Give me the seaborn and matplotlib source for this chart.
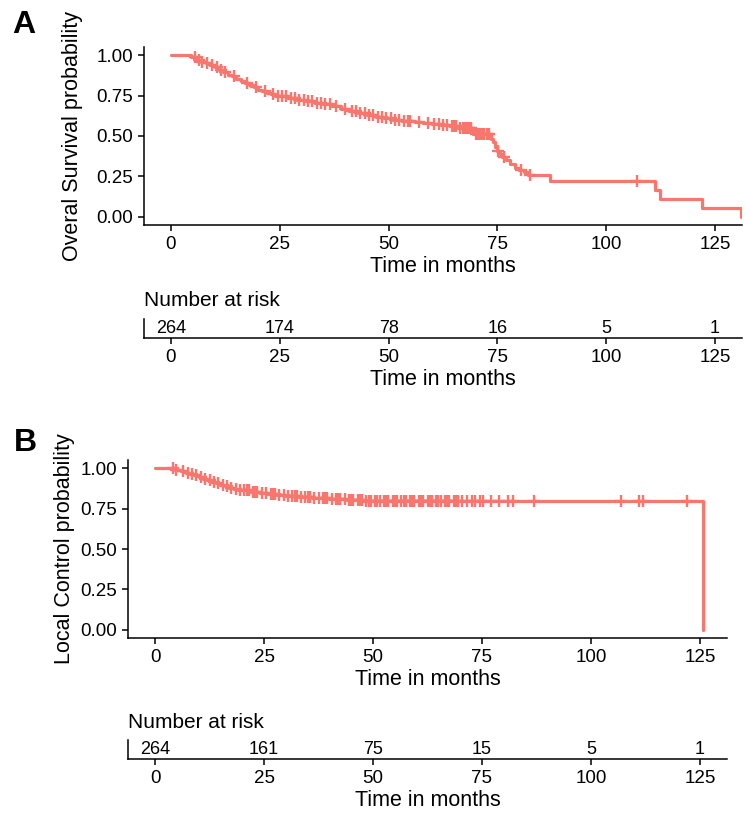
import numpy as np
import pandas as pd
import matplotlib
matplotlib.use("Agg")
import matplotlib.pyplot as plt
import seaborn as sns

# ---------------- data ----------------
# Overall survival (panel A): step times and survival after each step
os_times = [0, 4.5, 6, 7, 8, 9, 10, 11, 12, 13, 14, 15, 16, 17, 18, 19, 20, 21, 22,
            23, 24, 25, 27, 29, 31, 33, 35, 37, 39, 41, 43, 45, 47, 49, 51, 53, 56,
            58, 60, 62, 64, 66, 69.5, 73.5, 74, 74.5, 75, 75.5, 76, 77, 78, 79, 80,
            81, 82, 87, 111.3, 112.3, 122, 131]
os_surv = [1.0, 0.99, 0.97, 0.96, 0.95, 0.94, 0.925, 0.91, 0.895, 0.88, 0.87, 0.855,
           0.84, 0.83, 0.815, 0.80, 0.785, 0.775, 0.765, 0.76, 0.75, 0.745, 0.735,
           0.725, 0.715, 0.705, 0.695, 0.685, 0.665, 0.655, 0.645, 0.63, 0.62, 0.61,
           0.60, 0.595, 0.585, 0.58, 0.575, 0.57, 0.56, 0.55, 0.51, 0.48, 0.46, 0.43,
           0.41, 0.39, 0.37, 0.35, 0.33, 0.30, 0.29, 0.28, 0.26, 0.22, 0.165, 0.11,
           0.055, 0.0]
os_censor = [5.5, 6.5, 7.2, 8.3, 9.5, 10.5, 11.5, 12.5, 14.5, 17.5, 19.5, 21.5, 23.5,
             24.5, 25.5, 26.5, 27.5, 28.5, 29.5, 30.5, 31.5, 32.5, 33.5, 34.5, 35.5,
             36.5, 38, 40, 41.5, 42.5, 43.5, 44.5, 45.5, 46.5, 47.5, 48.5, 49.5, 50.5,
             51.5, 52.5, 53.5, 54.5, 55, 57, 59, 60.5, 61.5, 62.5, 63.5, 64.5, 65,
             65.5, 66.5, 67, 67.5, 68, 68.5, 69, 70, 70.5, 71, 71.5, 72, 72.5, 73,
             75.2, 76.5, 80.5, 82.5, 107]
os_risk = [264, 174, 78, 16, 5, 1]

# Local control (panel B)
lc_times = [0, 4.6, 6, 7, 8, 9, 10, 11, 12, 13, 14, 15, 16, 17, 18, 19, 20, 22, 24,
            26, 28, 30, 33, 36, 40, 44, 48, 125.7]
lc_surv = [1.0, 0.99, 0.98, 0.97, 0.965, 0.955, 0.945, 0.935, 0.925, 0.915, 0.905,
           0.895, 0.888, 0.88, 0.873, 0.867, 0.862, 0.855, 0.848, 0.842, 0.835,
           0.828, 0.82, 0.814, 0.808, 0.802, 0.797, 0.0]
lc_censor = [4.2, 4.8, 6.5, 7.5, 8.5, 9.5, 10.5, 11.5, 12.5, 13.5, 14.5, 15.5, 16.5,
             17.5, 18.5, 19.5, 20.5, 21, 21.5, 22.5, 23, 23.5, 24.5, 25.5, 26.5, 27,
             27.5, 28.5, 29.5, 30.5, 31.5, 32, 32.5, 33.5, 34.5, 35, 35.5, 36.5, 37.5,
             38.5, 39, 39.5, 40.5, 41.5, 42, 42.5, 43.5, 44.5, 45, 45.5, 46.5, 47,
             47.5, 48.5, 49, 49.5, 50.5, 51, 51.5, 52.5, 53, 53.5, 54.5, 55, 55.5,
             56.5, 57, 57.5, 58.5, 59, 59.5, 60.5, 61, 61.5, 62.5, 63, 63.5, 64.5,
             65, 65.5, 66.5, 67, 67.5, 68.5, 69, 69.5, 70.5, 71.5, 72.7, 73.4, 74.5,
             75.2, 77, 79, 81, 82, 87, 107, 111, 112, 122]
lc_risk = [264, 161, 75, 15, 5, 1]

risk_times = [0, 25, 50, 75, 100, 125]
x_ticks = [0, 25, 50, 75, 100, 125]
y_ticks = [0.0, 0.25, 0.5, 0.75, 1.0]
y_ticklabels = ["0.00", "0.25", "0.50", "0.75", "1.00"]

COLOR = "#F8766D"

sns.set_theme(style="ticks")
plt.rcParams["font.family"] = ["Liberation Sans", "DejaVu Sans"]
plt.rcParams["text.color"] = "black"
plt.rcParams["axes.labelcolor"] = "black"
plt.rcParams["axes.linewidth"] = 1.1
plt.rcParams["xtick.major.width"] = 1.1
plt.rcParams["ytick.major.width"] = 1.1
plt.rcParams["xtick.major.size"] = 4.3
plt.rcParams["ytick.major.size"] = 4.3
plt.rcParams["xtick.major.pad"] = 3.5
plt.rcParams["ytick.major.pad"] = 3.5
plt.rcParams["xtick.color"] = "black"
plt.rcParams["ytick.color"] = "black"
plt.rcParams["xtick.labelcolor"] = "black"
plt.rcParams["ytick.labelcolor"] = "black"
plt.rcParams["axes.edgecolor"] = "black"

W, H = 750, 825
fig = plt.figure(figsize=(7.5, 8.25), dpi=100)


def rect(left, top, right, bottom):
    return [left / W, 1 - bottom / H, (right - left) / W, (bottom - top) / H]


XLIM = (-6.2, 131.2)


def km_panel(ax, times, surv, censor, ylabel, ylab_x):
    df = pd.DataFrame({"time": times, "surv": surv})
    sns.lineplot(data=df, x="time", y="surv", ax=ax, color=COLOR, linewidth=2.3,
                 drawstyle="steps-post", estimator=None, sort=True)
    t = np.asarray(times)
    s = np.asarray(surv)
    c = np.asarray(censor)
    idx = np.searchsorted(t, c, side="right") - 1
    cdf = pd.DataFrame({"time": c, "surv": s[idx]})
    sns.scatterplot(data=cdf, x="time", y="surv", ax=ax, marker="+", s=85,
                    color=COLOR, linewidth=1.7, zorder=3)
    ax.set_xlim(*XLIM)
    ax.set_ylim(-0.05, 1.05)
    ax.set_xticks(x_ticks)
    ax.set_yticks(y_ticks)
    ax.set_yticklabels(y_ticklabels)
    ax.tick_params(labelsize=13.5)
    ax.set_xlabel("Time in months", fontsize=15.5, labelpad=2)
    ax.set_ylabel(ylabel, fontsize=15.5)
    ax.yaxis.set_label_coords(ylab_x, 0.5)
    sns.despine(ax=ax)


def risk_panel(ax, counts):
    ax.set_xlim(*XLIM)
    ax.set_ylim(0, 1)
    for tt, n in zip(risk_times, counts):
        ax.text(tt, 0.5, str(n), ha="center", va="center", fontsize=13)
    ax.set_xticks(x_ticks)
    ax.set_yticks([])
    ax.tick_params(labelsize=13.5)
    ax.set_xlabel("Time in months", fontsize=15.5, labelpad=2)
    ax.set_title("Number at risk", loc="left", fontsize=15, pad=9)
    sns.despine(ax=ax)


axA = fig.add_axes(rect(144, 47, 742, 225))
km_panel(axA, os_times, os_surv, os_censor, "Overal Survival probability", -0.102)

axAt = fig.add_axes(rect(144, 319, 742, 338))
risk_panel(axAt, os_risk)

axB = fig.add_axes(rect(128, 460, 727, 638))
km_panel(axB, lc_times, lc_surv, lc_censor, "Local Control probability", -0.088)

axBt = fig.add_axes(rect(128, 740, 727, 759))
risk_panel(axBt, lc_risk)

fig.text(24 / W, 1 - 25 / H, "A", fontsize=23, fontweight="heavy", ha="center", va="center")
fig.text(25 / W, 1 - 443 / H, "B", fontsize=23, fontweight="heavy", ha="center", va="center")

fig.savefig("out.png", dpi=100)
